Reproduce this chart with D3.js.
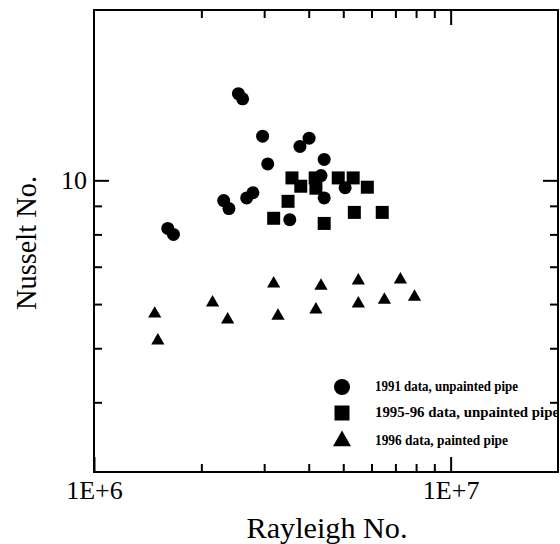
<!DOCTYPE html>
<html>
<head>
<meta charset="utf-8">
<script src="https://cdn.jsdelivr.net/npm/d3@7"></script>
<style>
  html, body { margin: 0; padding: 0; background: #fff; }
  svg { display: block; }
  text { font-family: "Liberation Serif", "Times New Roman", serif; fill: #000; }
</style>
</head>
<body>
<svg id="chart" width="560" height="544"></svg>
<script>
// ---- data ----
const ra1991 = [2.54e6, 2.61e6, 2.97e6, 3.07e6, 3.78e6, 4.01e6, 4.42e6, 4.33e6, 4.42e6, 5.06e6, 3.54e6, 2.68e6, 2.79e6, 2.31e6, 2.39e6, 1.61e6, 1.67e6];
const nu1991 = [14.3, 14.0, 12.0, 10.7, 11.5, 11.9, 10.9, 10.2, 9.3, 9.7, 8.5, 9.3, 9.5, 9.2, 8.9, 8.2, 8.0];

const ra9596 = [3.19e6, 3.59e6, 3.80e6, 3.50e6, 4.17e6, 4.19e6, 4.42e6, 4.84e6, 5.33e6, 5.84e6, 5.37e6, 6.43e6];
const nu9596 = [8.55, 10.1, 9.76, 9.17, 10.1, 9.68, 8.37, 10.1, 10.1, 9.72, 8.76, 8.76];

const ra1996 = [1.48e6, 1.51e6, 2.15e6, 2.37e6, 3.19e6, 3.28e6, 4.33e6, 4.19e6, 5.51e6, 5.51e6, 6.52e6, 7.23e6, 7.92e6];
const nu1996 = [5.80, 5.19, 6.07, 5.66, 6.57, 5.75, 6.51, 5.90, 6.65, 6.05, 6.14, 6.68, 6.22];

const seriesNames = ["1991 data, unpainted pipe", "1995-96 data, unpainted pipe", "1996 data, painted pipe"];

const xMajorTicks = [1e6, 1e7];
const xMajorLabels = ["1E+6", "1E+7"];
const xMinorTicks = [2e6, 3e6, 4e6, 5e6, 6e6, 7e6, 8e6, 9e6];
const yMajorTicks = [10];
const yMajorLabels = ["10"];
const yMinorTicks = [4, 5, 6, 7, 8, 9];

const xTitle = "Rayleigh No.";
const yTitle = "Nusselt No.";

// ---- layout ----
const L = 94, R = 558, T = 10, B = 472;
const svg = d3.select("#chart");

const x = d3.scaleLog().domain([1e6, 2e7]).range([L, R]);
const y = d3.scaleLog().domain([3, 20.2]).range([B, T]);

// frame
svg.append("rect")
  .attr("x", L).attr("y", T).attr("width", R - L).attr("height", B - T)
  .attr("fill", "none").attr("stroke", "#000").attr("stroke-width", 2);

function styleAxis(g) {
  g.select(".domain").remove();
  g.selectAll(".tick line").attr("stroke", "#000").attr("stroke-width", 2);
}

// bottom axis
svg.append("g").attr("transform", `translate(0,${B})`)
  .call(d3.axisBottom(x).tickValues(xMinorTicks).tickSize(-8).tickFormat(""))
  .call(styleAxis);
svg.append("g").attr("transform", `translate(0,${B})`)
  .call(d3.axisBottom(x).tickValues(xMajorTicks).tickSize(-15).tickPadding(9)
    .tickFormat((d, i) => xMajorLabels[i]))
  .call(styleAxis)
  .call(g => g.selectAll("text").attr("font-size", 26).attr("font-family", "Liberation Serif"));

// top axis
svg.append("g").attr("transform", `translate(0,${T})`)
  .call(d3.axisTop(x).tickValues(xMinorTicks).tickSize(-8).tickFormat(""))
  .call(styleAxis);
svg.append("g").attr("transform", `translate(0,${T})`)
  .call(d3.axisTop(x).tickValues([1e7]).tickSize(-15).tickFormat(""))
  .call(styleAxis);

// left axis
svg.append("g").attr("transform", `translate(${L},0)`)
  .call(d3.axisLeft(y).tickValues(yMinorTicks).tickSize(-8).tickFormat(""))
  .call(styleAxis);
svg.append("g").attr("transform", `translate(${L},0)`)
  .call(d3.axisLeft(y).tickValues(yMajorTicks).tickSize(-15).tickPadding(7)
    .tickFormat((d, i) => yMajorLabels[i]))
  .call(styleAxis)
  .call(g => g.selectAll("text").attr("font-size", 26).attr("font-family", "Liberation Serif"));

// right axis
svg.append("g").attr("transform", `translate(${R},0)`)
  .call(d3.axisRight(y).tickValues(yMinorTicks).tickSize(-8).tickFormat(""))
  .call(styleAxis);
svg.append("g").attr("transform", `translate(${R},0)`)
  .call(d3.axisRight(y).tickValues(yMajorTicks).tickSize(-15).tickFormat(""))
  .call(styleAxis);

// titles
svg.append("text")
  .attr("x", 327).attr("y", 538)
  .attr("text-anchor", "middle")
  .attr("font-size", 30)
  .attr("textLength", 161).attr("lengthAdjust", "spacingAndGlyphs")
  .text(xTitle);

svg.append("text")
  .attr("transform", "translate(36,243) rotate(-90)")
  .attr("text-anchor", "middle")
  .attr("font-size", 30)
  .attr("textLength", 134).attr("lengthAdjust", "spacingAndGlyphs")
  .text(yTitle);

// ---- marks ----
const circleSym = d3.symbol().type(d3.symbolCircle).size(133);
const squareSym = d3.symbol().type(d3.symbolSquare).size(169);
const triSym = d3.symbol().type(d3.symbolTriangle).size(76);

const marks = svg.append("g");
marks.selectAll(".c").data(d3.zip(ra1991, nu1991)).join("path")
  .attr("d", circleSym)
  .attr("transform", d => `translate(${x(d[0])},${y(d[1])})`)
  .attr("fill", "#000");
marks.selectAll(".s").data(d3.zip(ra9596, nu9596)).join("path")
  .attr("d", squareSym)
  .attr("transform", d => `translate(${x(d[0])},${y(d[1])})`)
  .attr("fill", "#000");
marks.selectAll(".t").data(d3.zip(ra1996, nu1996)).join("path")
  .attr("d", triSym)
  .attr("transform", d => `translate(${x(d[0])},${y(d[1]) + 1.5})`)
  .attr("fill", "#000");

// ---- legend ----
const legendSyms = [
  d3.symbol().type(d3.symbolCircle).size(201),
  d3.symbol().type(d3.symbolSquare).size(225),
  d3.symbol().type(d3.symbolTriangle).size(140)
];
const legendY = [387, 413, 441];
const legendLen = [143, 184, 133];
const lg = svg.append("g");
seriesNames.forEach((name, i) => {
  lg.append("path")
    .attr("d", legendSyms[i])
    .attr("transform", `translate(342,${legendY[i]})`)
    .attr("fill", "#000");
  lg.append("text")
    .attr("x", 375).attr("y", legendY[i] + 4)
    .attr("font-size", 15).attr("font-weight", "bold")
    .attr("textLength", legendLen[i]).attr("lengthAdjust", "spacingAndGlyphs")
    .text(name);
});
</script>
</body>
</html>
